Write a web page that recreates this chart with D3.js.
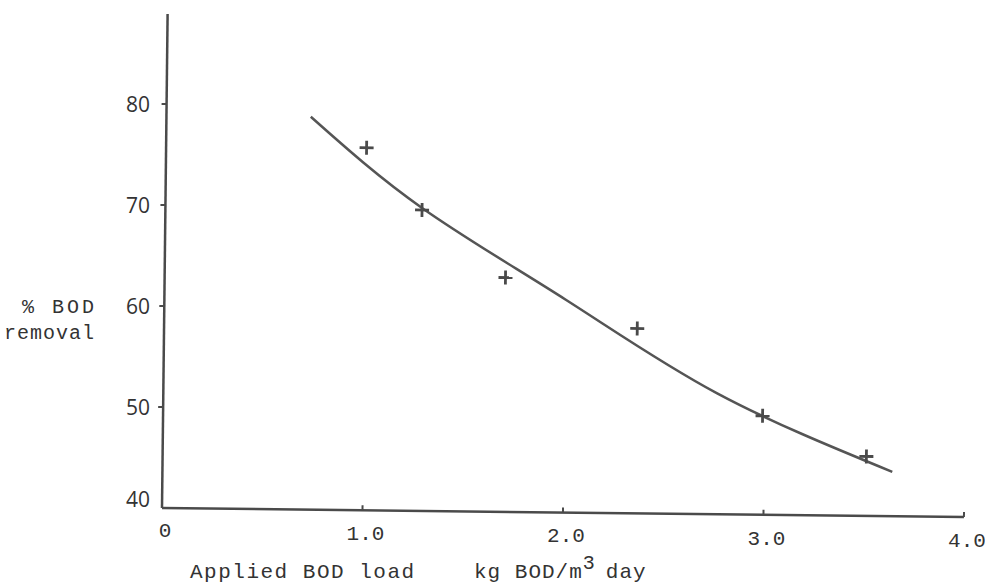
<!DOCTYPE html>
<html>
<head>
<meta charset="utf-8">
<script src="https://cdn.jsdelivr.net/npm/d3@7"></script>
<style>
  body { margin: 0; background: #fff; }
  svg { display: block; }
</style>
</head>
<body>
<div id="chart"></div>
<script>
// measured points (+) : applied BOD load vs % removal
var loadValues = [1.0, 1.28, 1.70, 2.36, 2.99, 3.51];
var removalValues = [75.9, 69.8, 63.2, 58.3, 49.8, 45.9];

// hand drawn fitted curve
var curveLoad = [0.72, 1.28, 2.0, 2.76, 3.64];
var curveRemoval = [78.9, 70.0, 61.1, 52.0, 44.4];

var xTicks = [0, 1, 2, 3, 4];
var xTickLabels = ["0", "1.0", "2.0", "3.0", "4.0"];
var yTicks = [40, 50, 60, 70, 80];

var width = 985, height = 585;
var ink = "#4a4a4a";
var mono = "'Liberation Mono', 'DejaVu Sans Mono', monospace";

var svg = d3.select("#chart").append("svg")
    .attr("width", width)
    .attr("height", height);

var x = d3.scaleLinear().domain([0, 4]).range([162, 964]);
var y = d3.scaleLinear().domain([40, 80]).range([508, 104]);

// the scanned page is a little skewed
var plot = svg.append("g")
    .attr("transform", "rotate(0.65," + x(0) + "," + y(40) + ")");

// axes
plot.append("line")
    .attr("x1", x(0)).attr("y1", y(40))
    .attr("x2", x(0)).attr("y2", 14)
    .attr("stroke", ink).attr("stroke-width", 2.5);
plot.append("line")
    .attr("x1", x(0)).attr("y1", y(40))
    .attr("x2", x(4)).attr("y2", y(40))
    .attr("stroke", ink).attr("stroke-width", 2.5);

plot.selectAll(".ytick")
    .data(yTicks.slice(1))
    .enter().append("line")
    .attr("class", "ytick")
    .attr("x1", x(0) - 5).attr("x2", x(0))
    .attr("y1", function (d) { return y(d); })
    .attr("y2", function (d) { return y(d); })
    .attr("stroke", ink).attr("stroke-width", 2);

plot.selectAll(".xtick")
    .data(xTicks.slice(1))
    .enter().append("line")
    .attr("class", "xtick")
    .attr("x1", function (d) { return x(d); })
    .attr("x2", function (d) { return x(d); })
    .attr("y1", y(40) - 5).attr("y2", y(40))
    .attr("stroke", ink).attr("stroke-width", 2);

// fitted curve
var curveData = curveLoad.map(function (d, i) { return [d, curveRemoval[i]]; });
var line = d3.line()
    .x(function (d) { return x(d[0]); })
    .y(function (d) { return y(d[1]); })
    .curve(d3.curveNatural);

plot.append("path")
    .datum(curveData)
    .attr("d", line)
    .attr("fill", "none")
    .attr("stroke", "#555")
    .attr("stroke-width", 2.5);

// plus markers
var pts = loadValues.map(function (d, i) { return {x: d, y: removalValues[i]}; });
var marks = plot.selectAll(".pt")
    .data(pts)
    .enter().append("g")
    .attr("class", "pt")
    .attr("transform", function (d) { return "translate(" + x(d.x) + "," + y(d.y) + ")"; });
marks.append("line")
    .attr("x1", -7).attr("x2", 7).attr("y1", 0).attr("y2", 0)
    .attr("stroke", ink).attr("stroke-width", 2.8);
marks.append("line")
    .attr("x1", 0).attr("x2", 0).attr("y1", -7).attr("y2", 7)
    .attr("stroke", ink).attr("stroke-width", 2.8);

// y tick labels
svg.selectAll(".ylab")
    .data(yTicks)
    .enter().append("text")
    .attr("class", "ylab")
    .attr("x", 150)
    .attr("y", function (d) { return d == 40 ? y(d) - 1 : y(d) + 8; })
    .attr("text-anchor", "end")
    .attr("font-family", "'Open Sans', sans-serif")
    .attr("font-size", 21)
    .attr("fill", "#333")
    .text(function (d) { return d; });

// x tick labels
svg.selectAll(".xlab")
    .data(xTicks)
    .enter().append("text")
    .attr("class", "xlab")
    .attr("x", function (d) { return x(d) + 3; })
    .attr("y", function (d) { return y(40) + 29 + d * 2.5; })
    .attr("text-anchor", "middle")
    .attr("font-family", mono)
    .attr("font-size", 21)
    .attr("fill", "#333")
    .text(function (d, i) { return xTickLabels[i]; });

// axis titles
svg.append("text")
    .attr("x", 22).attr("y", 313)
    .attr("font-family", mono).attr("font-size", 20)
    .attr("letter-spacing", 3)
    .attr("fill", "#333")
    .text("% BOD");
svg.append("text")
    .attr("x", 4).attr("y", 339)
    .attr("font-family", mono).attr("font-size", 20)
    .attr("letter-spacing", 1)
    .attr("fill", "#333")
    .text("removal");

svg.append("text")
    .attr("x", 190).attr("y", 578)
    .attr("font-family", mono).attr("font-size", 21)
    .attr("letter-spacing", 1.5)
    .attr("fill", "#333")
    .text("Applied BOD load");

var unit = svg.append("text")
    .attr("x", 474).attr("y", 578)
    .attr("font-family", mono).attr("font-size", 21)
    .attr("letter-spacing", 1)
    .attr("fill", "#333");
unit.append("tspan").text("kg BOD/m");
unit.append("tspan").attr("dy", -9).attr("font-size", 20).text("3");
unit.append("tspan").attr("dy", 9).attr("dx", 10).text("day");
</script>
</body>
</html>
